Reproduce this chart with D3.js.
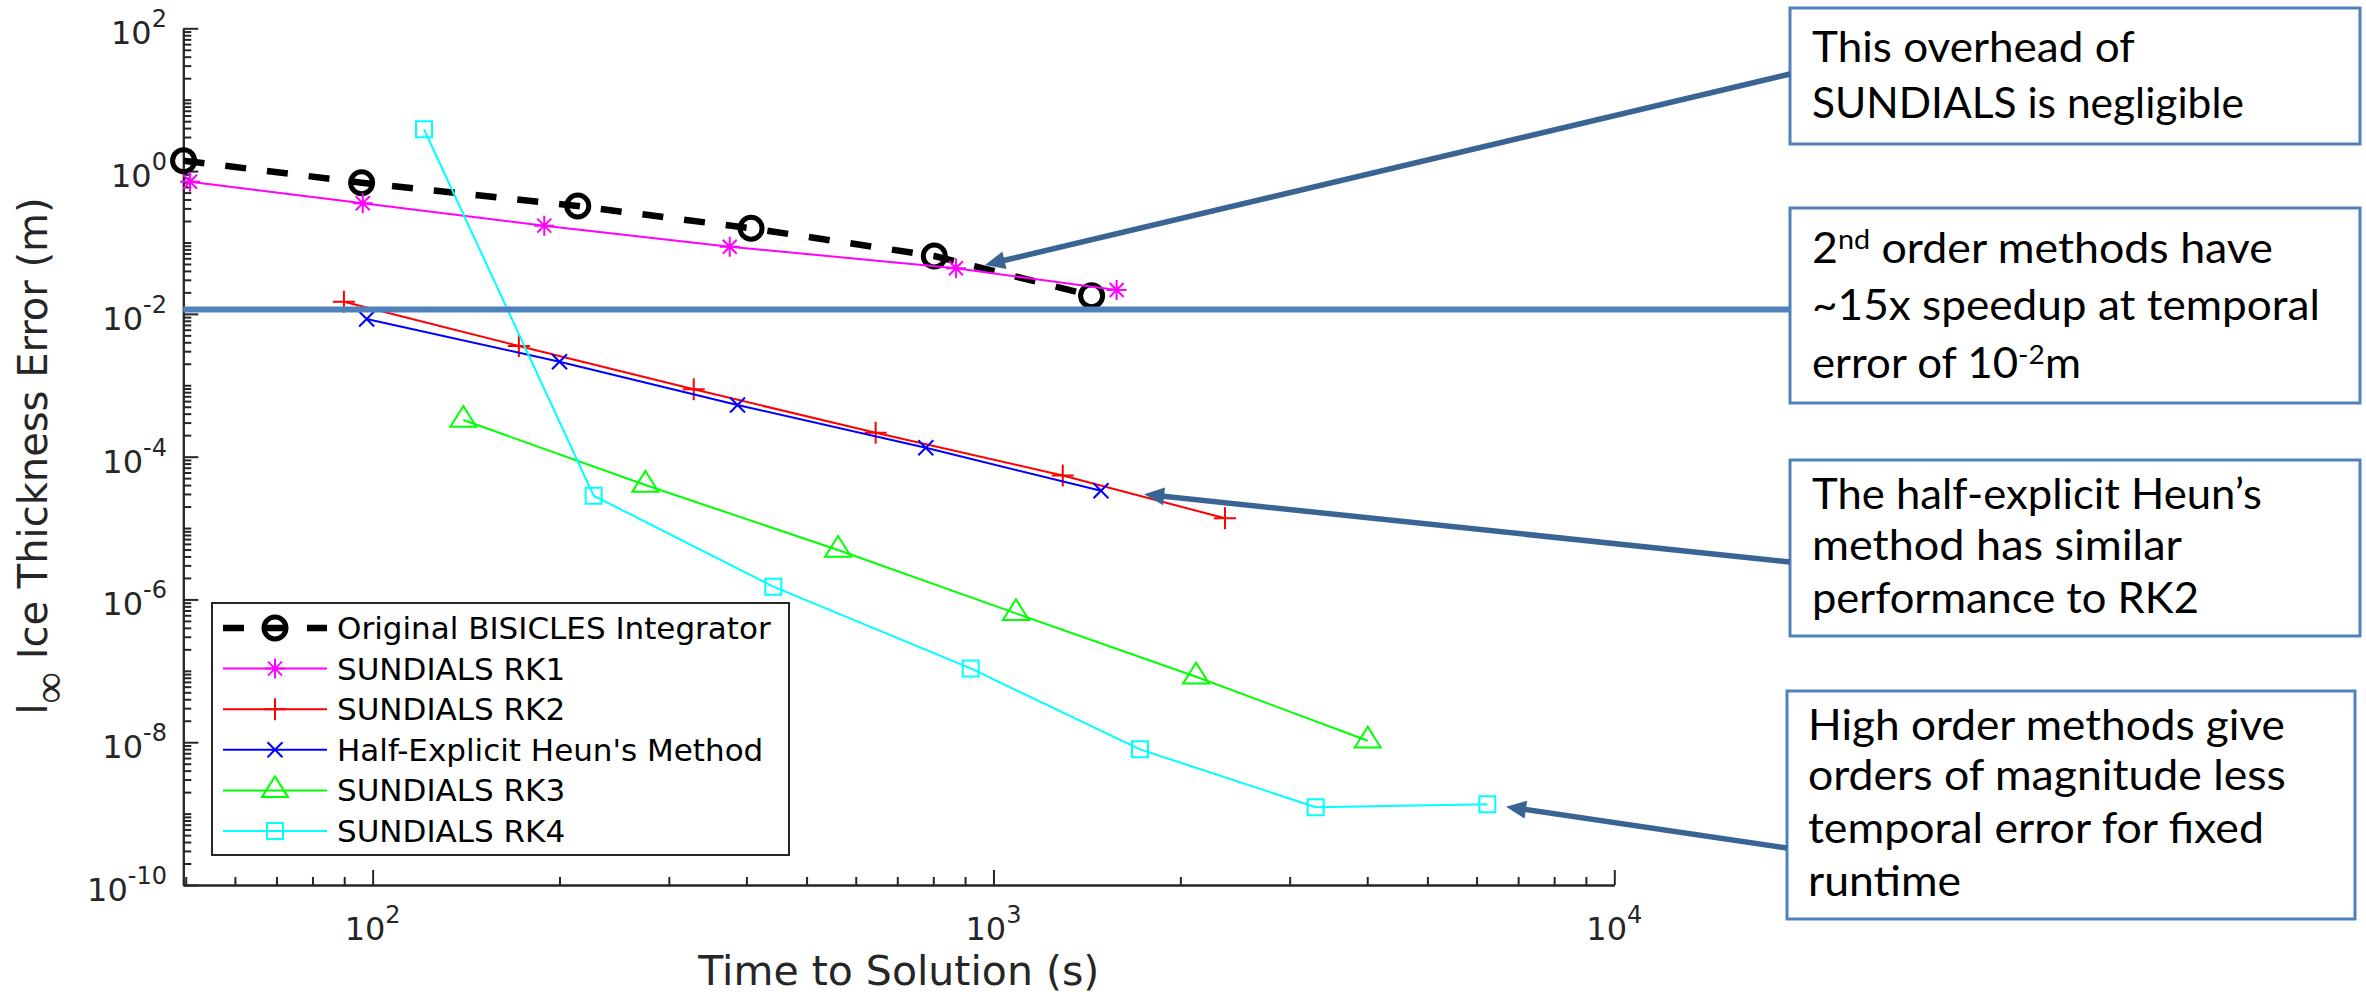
<!DOCTYPE html>
<html>
<head>
<meta charset="utf-8">
<script src="https://cdn.jsdelivr.net/npm/d3@7"></script>
<style>
  body{margin:0;background:#fff;}
  svg{display:block;}
</style>
</head>
<body>
<div id="chart"></div>
<script>
const seriesNames = ["Original BISICLES Integrator", "SUNDIALS RK1", "SUNDIALS RK2",
    "Half-Explicit Heun's Method", "SUNDIALS RK3", "SUNDIALS RK4"];
const origTime = [49.6, 96.0, 214, 407, 803, 1439];
const origErr = [1.40, 0.688, 0.324, 0.158, 0.0646, 0.0180];
const rk1Time = [50.8, 96.4, 189, 376, 870, 1579];
const rk1Err = [0.710, 0.354, 0.172, 0.0873, 0.0435, 0.0216];
const rk2Time = [89.9, 172, 329, 646, 1293, 2360];
const rk2Err = [0.0148, 0.00355, 0.000878, 0.000216, 5.44e-5, 1.37e-5];
const heunTime = [97.8, 200, 387, 778, 1490];
const heunErr = [0.00847, 0.00214, 0.000529, 0.000133, 3.33e-5];
const rk3Time = [140, 275, 562, 1087, 2120, 4007];
const rk3Err = [3.26e-4, 4.01e-5, 4.92e-6, 6.39e-7, 8.27e-8, 1.05e-8];
const rk4Time = [121, 227, 442, 919, 1722, 3304, 6244];
const rk4Err = [3.85, 2.84e-5, 1.51e-6, 1.08e-7, 7.95e-9, 1.23e-9, 1.35e-9];

const xTickExp = [2, 3, 4];
const yTickExp = [-10, -8, -6, -4, -2, 0, 2];
const xLabel = "Time to Solution (s)";
const yLabel = " Ice Thickness Error (m)";

// 10^-2 m reference line and the arrow tips (data space)
const refErr = 0.0115;
const arrowTipTime = [969, 1749, 6693];
const arrowTipErr = [0.0484, 2.97e-5, 1.25e-9];

// callout texts, one array per box, one entry per line ([text, superscript?])
const note1 = [[["This overhead of"]], [["SUNDIALS is negligible"]]];
const note2 = [[["2"], ["nd", true], [" order methods have"]], [["~15x speedup at temporal"]], [["error of 10"], ["-2", true], ["m"]]];
const note3 = [[["The half-explicit Heun\u2019s"]], [["method has similar"]], [["performance to RK2"]]];
const note4 = [[["High order methods give"]], [["orders of magnitude less"]], [["temporal error for fixed"]], [["runtime"]]];

class errorChart {
    constructor(params) {
        var me = this;
        this.container = params.container ? params.container : d3.select('body');
        this.screenSize = params.screenSize ? params.screenSize : {'w': 2366, 'h': 999};
        var svg, x, y;
        const axisCol = '#262626', boxCol = '#4f81bd', arrowCol = '#3a6494';

        this.init = function () {
            svg = me.container.append('svg')
                .attr('width', me.screenSize.w)
                .attr('height', me.screenSize.h)
                .style('font-family', 'DejaVu Sans');
            x = d3.scaleLog().domain([49.55, 1e4]).range([183.3, 1614.3]);
            y = d3.scaleLog().domain([1e-10, 1e2]).range([885, 28.3]);
            me.drawAxes();
            me.drawSeries();
            me.drawLegend();
            me.drawNotes();
        }

        this.drawAxes = function () {
            let xt = x.ticks(10), yt = y.ticks(20);
            let xMajor = xTickExp.map(e => Math.pow(10, e)),
                yMajor = yTickExp.map(e => Math.pow(10, e));
            let isPow = v => Math.abs(Math.log10(v) - Math.round(Math.log10(v))) < 1e-9;
            let xMinor = xt.filter(v => !isPow(v)),
                yMinor = yt.filter(v => !(isPow(v) && Math.round(Math.log10(v)) % 2 == 0));

            //ticks point inside, two passes for the two tick lengths
            [[xMinor, 8], [xMajor, 15]].forEach(([vals, len]) => {
                svg.append('g').attr('transform', 'translate(0,885)')
                    .call(d3.axisBottom(x).tickValues(vals).tickSizeInner(-len).tickSizeOuter(0).tickFormat(''))
                    .call(g => g.selectAll('path,line').attr('stroke', axisCol).attr('stroke-width', 2));
            });
            [[yMinor, 8], [yMajor, 15]].forEach(([vals, len]) => {
                svg.append('g').attr('transform', 'translate(183.3,0)')
                    .call(d3.axisLeft(y).tickValues(vals).tickSizeInner(-len).tickSizeOuter(0).tickFormat(''))
                    .call(g => g.selectAll('path,line').attr('stroke', axisCol).attr('stroke-width', 2));
            });

            //labels as 10 + superscript
            xTickExp.forEach(e => {
                let t = svg.append('text').attr('x', x(Math.pow(10, e))).attr('y', 940)
                    .attr('text-anchor', 'middle').attr('fill', axisCol).style('font-size', '32px');
                t.append('tspan').text('10');
                t.append('tspan').attr('dy', -17).style('font-size', '24px').text(e);
            });
            yTickExp.forEach(e => {
                let t = svg.append('text').attr('x', 167).attr('y', y(Math.pow(10, e)) + 16)
                    .attr('text-anchor', 'end').attr('fill', axisCol).style('font-size', '32px');
                t.append('tspan').text('10');
                t.append('tspan').attr('dy', -17).style('font-size', '24px').text(e);
            });

            svg.append('text').attr('x', 898.8).attr('y', 985).attr('text-anchor', 'middle')
                .attr('fill', axisCol).style('font-size', '41px').text(xLabel);
            let yl = svg.append('text').attr('transform', 'translate(47,456) rotate(-90)')
                .attr('text-anchor', 'middle').attr('fill', axisCol).style('font-size', '40px');
            yl.append('tspan').text('l');
            yl.append('tspan').attr('dy', 17).style('font-size', '44px').style('font-weight', 300).text('\u221e');
            yl.append('tspan').attr('dy', -17).style('font-size', '40px').text(yLabel);
        }

        this.marker = function (g, type, col) {
            if (type == 'circle') {
                g.append('circle').attr('r', 11).attr('fill', 'none').attr('stroke', col).attr('stroke-width', 5);
                return;
            }
            let d = {
                'star': 'M-10,0H10M0,-10V10M-7,-7L7,7M-7,7L7,-7',
                'plus': 'M-11,0H11M0,-11V11',
                'cross': 'M-7.5,-7.5L7.5,7.5M-7.5,7.5L7.5,-7.5',
                'tri': 'M0,-14L-13,6.7L13,6.7Z',
                'square': 'M-8,-8H8V8H-8Z'
            }[type];
            g.append('path').attr('d', d).attr('fill', 'none').attr('stroke', col).attr('stroke-width', 2);
        }

        this.series = function () {
            return [
                {name: seriesNames[0], t: origTime, e: origErr, col: '#000000', m: 'circle', w: 6.5, dash: '21,21'},
                {name: seriesNames[1], t: rk1Time, e: rk1Err, col: '#ff00ff', m: 'star', w: 2},
                {name: seriesNames[2], t: rk2Time, e: rk2Err, col: '#ff0000', m: 'plus', w: 2},
                {name: seriesNames[3], t: heunTime, e: heunErr, col: '#0000ff', m: 'cross', w: 2},
                {name: seriesNames[4], t: rk3Time, e: rk3Err, col: '#00ff00', m: 'tri', w: 2},
                {name: seriesNames[5], t: rk4Time, e: rk4Err, col: '#00ffff', m: 'square', w: 2}
            ];
        }

        this.drawSeries = function () {
            let line = d3.line().x(d => x(d[0])).y(d => y(d[1]));
            me.series().forEach(s => {
                let pts = d3.zip(s.t, s.e);
                svg.append('path').attr('d', line(pts)).attr('fill', 'none')
                    .attr('stroke', s.col).attr('stroke-width', s.w)
                    .attr('stroke-dasharray', s.dash ? s.dash : null);
                pts.forEach(p => {
                    let g = svg.append('g').attr('transform', 'translate(' + x(p[0]) + ',' + y(p[1]) + ')');
                    me.marker(g, s.m, s.col);
                });
            });
        }

        this.drawLegend = function () {
            let lg = svg.append('g');
            lg.append('rect').attr('x', 212).attr('y', 603).attr('width', 577).attr('height', 252)
                .attr('fill', '#fff').attr('stroke', axisCol).attr('stroke-width', 2);
            me.series().forEach((s, i) => {
                let ry = 628 + i * 40.6;
                lg.append('line').attr('x1', 223).attr('x2', 327).attr('y1', ry).attr('y2', ry)
                    .attr('stroke', s.col).attr('stroke-width', s.w)
                    .attr('stroke-dasharray', s.dash ? s.dash : null);
                me.marker(lg.append('g').attr('transform', 'translate(275,' + ry + ')'), s.m, s.col);
                lg.append('text').attr('x', 337).attr('y', ry + 11).style('font-size', '31px')
                    .attr('fill', '#000').text(s.name);
            });
        }

        //squeeze or stretch one line of text to the width it has in the figure
        this.fitText = function (t, x0, w) {
            let bw = t.node().getBBox().width;
            let k = w / bw;
            t.attr('transform', 'translate(' + x0 + ',0) scale(' + k + ',1) translate(' + (-x0) + ',0)');
        }

        this.drawNotes = function () {
            //reference line at 1e-2 m
            svg.append('line').attr('x1', 183.3).attr('x2', 1790)
                .attr('y1', y(refErr)).attr('y2', y(refErr))
                .attr('stroke', boxCol).attr('stroke-width', 6);

            let boxes = [
                {lines: note1, x: 1790, y: 8, w: 570, h: 136, tx: 1812, base: [62, 118], wid: [323, 432]},
                {lines: note2, x: 1790, y: 208, w: 570, h: 195, tx: 1812, base: [263, 320, 378], wid: [461, 508, 269]},
                {lines: note3, x: 1790, y: 460, w: 570, h: 176, tx: 1812, base: [509, 560, 613], wid: [450, 370, 387]},
                {lines: note4, x: 1787, y: 691, w: 568, h: 228, tx: 1808, base: [740, 790, 843, 896], wid: [477, 478, 456, 153]}
            ];
            boxes.forEach(b => {
                svg.append('rect').attr('x', b.x).attr('y', b.y).attr('width', b.w).attr('height', b.h)
                    .attr('fill', '#fff').attr('stroke', boxCol).attr('stroke-width', 3);
                b.lines.forEach((segs, i) => {
                    let t = svg.append('text').attr('x', b.tx).attr('y', b.base[i])
                        .style('font-family', 'Lato, "Open Sans", sans-serif').style('font-size', '42px')
                        .attr('fill', '#000');
                    let up = false;
                    segs.forEach(sg => {
                        let ts = t.append('tspan').text(sg[0]);
                        if (sg[1]) { ts.attr('dy', -14).style('font-size', '27px'); up = true; }
                        else if (up) { ts.attr('dy', 14); up = false; }
                    });
                    me.fitText(t, b.tx, b.wid[i]);
                });
            });

            //arrows from the boxes to the curves
            let starts = [[1790, 74], [1790, 562], [1787, 848]];
            starts.forEach((s, i) => {
                me.arrow(s[0], s[1], x(arrowTipTime[i]), y(arrowTipErr[i]));
            });
        }

        this.arrow = function (x1, y1, x2, y2) {
            let dx = x2 - x1, dy = y2 - y1, L = Math.hypot(dx, dy), ux = dx / L, uy = dy / L;
            let hl = 20, hw = 9;
            let bx = x2 - ux * hl, by = y2 - uy * hl;
            svg.append('line').attr('x1', x1).attr('y1', y1)
                .attr('x2', bx + ux * 3).attr('y2', by + uy * 3)
                .attr('stroke', arrowCol).attr('stroke-width', 5.5);
            svg.append('path')
                .attr('d', 'M' + x2 + ',' + y2 + 'L' + (bx - uy * hw) + ',' + (by + ux * hw) + 'L' + (bx + uy * hw) + ',' + (by - ux * hw) + 'Z')
                .attr('fill', arrowCol);
        }

        this.init();
    }
}

new errorChart({container: d3.select('#chart'), screenSize: {'w': 2366, 'h': 999}});
</script>
</body>
</html>
